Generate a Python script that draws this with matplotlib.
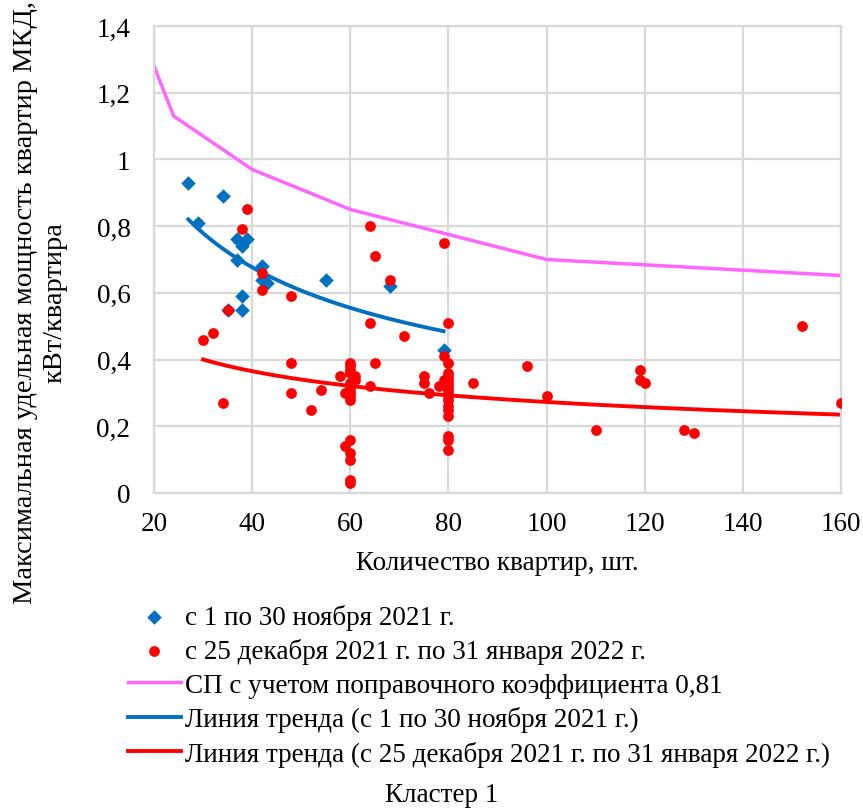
import numpy as np
import matplotlib
matplotlib.use("Agg")
import matplotlib.pyplot as plt
from matplotlib.ticker import FuncFormatter, FixedLocator

plt.rcParams['font.family'] = ['Liberation Serif', 'DejaVu Serif']

# Measurements: November 2021
nov_x = [27, 29, 34, 35, 37, 37, 38, 38, 38, 39, 42, 42, 43, 55, 68, 79]
nov_y = [0.93, 0.81, 0.89, 0.55, 0.76, 0.70, 0.74, 0.59, 0.55, 0.76, 0.68, 0.64, 0.63, 0.64, 0.62, 0.43]

# Measurements: 25 Dec 2021 - 31 Jan 2022
winter_x = [30, 32, 34, 35, 38, 39, 42, 42, 48, 48, 48, 52, 54, 58, 59, 59,
            60, 60, 60, 60, 60, 60, 60, 60, 60, 60,
            60, 60, 60, 60, 60, 61, 61,
            64, 64, 64, 65, 65, 68, 71, 75, 75, 76, 78, 79, 79, 79, 79,
            80, 80, 80, 80, 80, 80, 80, 80, 80, 80, 80, 80, 80, 80,
            80, 80, 80,
            85, 96, 100, 110, 119, 119, 120, 128, 130, 152, 160]
winter_y = [0.46, 0.48, 0.27, 0.55, 0.79, 0.85, 0.66, 0.61, 0.59, 0.39, 0.30, 0.25, 0.31, 0.35, 0.30, 0.14,
            0.39, 0.38, 0.37, 0.36, 0.33, 0.32, 0.31, 0.29, 0.28, 0.16,
            0.12, 0.10, 0.04, 0.03, 0.30, 0.35, 0.34,
            0.80, 0.51, 0.32, 0.71, 0.39, 0.64, 0.47, 0.35, 0.33, 0.30, 0.32, 0.75, 0.41, 0.34, 0.33,
            0.51, 0.39, 0.36, 0.35, 0.34, 0.33, 0.32, 0.31, 0.30, 0.29, 0.28, 0.26, 0.25, 0.23,
            0.17, 0.16, 0.13,
            0.33, 0.38, 0.29, 0.19, 0.37, 0.34, 0.33, 0.19, 0.18, 0.50, 0.27]

# Normative curve (SP) with correction factor 0.81
sp_x = [20, 24, 40, 60, 100, 200]
sp_y = [1.28, 1.13, 0.97, 0.85, 0.70, 0.62]

# Power trend lines y = a * x^b
nov_trend = dict(a=4.11, b=-0.489, x0=27, x1=79)
winter_trend = dict(a=1.18, b=-0.318, x0=30, x1=160)

x_ticks = [20, 40, 60, 80, 100, 120, 140, 160]
y_ticks = [0, 0.2, 0.4, 0.6, 0.8, 1.0, 1.2, 1.4]

labels = [
    "с 1 по 30 ноября 2021 г.",
    "с 25 декабря 2021 г. по 31 января 2022 г.",
    "СП с учетом поправочного коэффициента 0,81",
    "Линия тренда (с 1 по 30 ноября 2021 г.)",
    "Линия тренда (с 25 декабря 2021 г. по 31 января 2022 г.)",
]

BLUE = "#0070C0"
RED = "#FF0000"
PINK = "#FF66FF"
GRID = "#D9D9D9"
FS = 19.5

fig = plt.figure(figsize=(8.63, 8.12), dpi=100)
W, H = 863, 812
ax = fig.add_axes([154 / W, 1 - 494 / H, (841 - 154) / W, (494 - 27) / H])

ax.set_xlim(20, 160)
ax.set_ylim(0, 1.4)
ax.xaxis.set_major_locator(FixedLocator(x_ticks))
ax.yaxis.set_major_locator(FixedLocator(y_ticks))


def comma(v, _):
    s = f"{v:g}"
    return s.replace(".", ",")


ax.yaxis.set_major_formatter(FuncFormatter(comma))
ax.xaxis.set_major_formatter(FuncFormatter(comma))
ax.tick_params(length=0, labelsize=FS)
ax.tick_params(axis="x", pad=13)
ax.tick_params(axis="y", pad=17)
ax.grid(True, color=GRID, linewidth=1.6)
ax.set_axisbelow(True)
for sp in ax.spines.values():
    sp.set_color(GRID)
    sp.set_linewidth(1.6)

h_sp, = ax.plot(sp_x, sp_y, color=PINK, lw=2.5, zorder=2)

tx = np.linspace(nov_trend["x0"], nov_trend["x1"], 200)
h_nt, = ax.plot(tx, nov_trend["a"] * tx ** nov_trend["b"], color=BLUE, lw=2.8, zorder=2)
tx = np.linspace(winter_trend["x0"], winter_trend["x1"], 300)
h_wt, = ax.plot(tx, winter_trend["a"] * tx ** winter_trend["b"], color=RED, lw=2.8, zorder=2)

h_nov = ax.scatter(nov_x, nov_y, marker="D", s=55, color=BLUE, linewidths=0, zorder=3)
h_win = ax.scatter(winter_x, winter_y, marker="o", s=60, color=RED, linewidths=0, zorder=4)

ax.set_xlabel("Количество квартир, шт.", fontsize=FS, labelpad=10)

fig.text(40 / W, 1 - 303 / H,
         "Максимальная удельная мощность квартир МКД,\nкВт/квартира",
         rotation=90, ha="center", va="center", multialignment="center",
         fontsize=20.5, linespacing=1.25)

fig.legend([h_nov, h_win, h_sp, h_nt, h_wt], labels,
           loc="upper left", bbox_to_anchor=(128 / W, 1 - 605 / H),
           frameon=False, fontsize=FS, handlelength=1.95, handletextpad=0.15,
           borderpad=0, borderaxespad=0, labelspacing=0.31, scatterpoints=1)

fig.text(442 / W, 1 - 796 / H, "Кластер 1", ha="center", va="center", fontsize=FS)

fig.savefig("out.png", dpi=100)
